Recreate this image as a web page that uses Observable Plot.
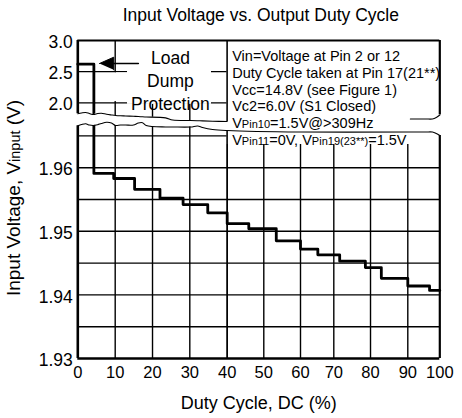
<!DOCTYPE html>
<html><head><meta charset="utf-8">
<script src="https://cdn.jsdelivr.net/npm/d3@7"></script>
<script src="https://cdn.jsdelivr.net/npm/@observablehq/plot@0.6"></script>
<style>
body{margin:0;background:#fff;}
#chart{width:462px;height:418px;}
</style>
</head><body><div id="chart"></div>
<script>
// ---- text ----
const title = "Input Voltage vs. Output Duty Cycle";
const xLabel = "Duty Cycle, DC (%)";
const yLabel = "Input Voltage, V_{input} (V)";
const noteLines = [
  "Vin=Voltage at Pin 2 or 12",
  "Duty Cycle taken at Pin 17(21**)",
  "Vcc=14.8V (see Figure 1)",
  "Vc2=6.0V (S1 Closed)",
  "V_{Pin10}=1.5V@>309Hz",
  "V_{Pin11}=0V, V_{Pin19(23**)}=1.5V"
];
const loadLabel = ["Load", "Dump", "Protection"];

// ---- ticks / grid ----
const xTicks = [0, 10, 20, 30, 40, 50, 60, 70, 80, 90, 100];
const yTicksLower = [1.93, 1.94, 1.95, 1.96];
const yTicksUpper = [2.0, 2.5, 3.0];
const yGridLower = [1.935, 1.94, 1.945, 1.95, 1.955, 1.96, 1.965];
const yGridUpper = [2.0, 2.5];

// ---- series (step curve) ----
const dutyCycle    = [0, 4.3, 9.6, 15.2, 22.0, 28.2, 34.8, 40.0, 45.9, 53.4, 60.0, 65.2, 71.6, 78.6, 82.9, 90.0, 96.8, 100];
const inputVoltage = [2.62, 1.9591, 1.9583, 1.9566, 1.9552, 1.9542, 1.9529, 1.9512, 1.9504, 1.9485, 1.9472, 1.9463, 1.9453, 1.9443, 1.9426, 1.9414, 1.9407, 1.9407];

// ---- axis break outline ----
const breakX      = [0, 1.0, 2.1, 3.1, 4.2, 5.3, 6.3, 7.7, 9.0, 10.1, 11.4, 12.8, 14.9, 16.2, 17.3, 18.3, 23.5, 25.4, 30.2, 32.1, 33.4, 36.1, 40, 60, 90.8, 95.5, 97.7, 98.9, 100];
const breakTop    = [1.96848, 1.9686, 1.96868, 1.96852, 1.96836, 1.96852, 1.96857, 1.9684, 1.96829, 1.96821, 1.96816, 1.96813, 1.96808, 1.96805, 1.968, 1.96797, 1.96783, 1.9675, 1.96742, 1.96739, 1.96736, 1.96731, 1.96726, 1.96726, 1.96766, 1.96766, 1.96766, 1.96789, 1.96829];
const breakBottom = [1.96659, 1.96679, 1.96692, 1.96671, 1.96664, 1.96676, 1.96695, 1.96714, 1.96703, 1.96664, 1.96671, 1.96671, 1.96671, 1.96703, 1.96708, 1.96664, 1.9664, 1.9664, 1.9664, 1.96656, 1.96632, 1.96601, 1.96585, 1.96561, 1.96561, 1.96561, 1.96561, 1.96538, 1.96506];

// ---- annotations ----
const noteBox = {x1: 40, x2: 100, y1: 1.96365, y2: 3.0};
const loadBox = {x1: 13.3, x2: 35.8, y1: 1.975, y2: 3.0};
const loadBoxLeft = {x1: 9.8, x2: 13.3, y1: 2.02, y2: 2.48};
const loadLabelPos = {x: 24.8, y: 2.375};
const arrowShaftX = [9.6, 16.2];
const arrowY = 2.631;
const arrowHeadX = [5.8, 9.6, 9.6];
const arrowHeadY = [2.631, 2.732, 2.530];

// the scanned grid spacing is slightly uneven: where each 10% gridline sits (in % of width)
const xGridSpot = [0, 10.33, 20.64, 30.94, 41.27, 51.38, 61.52, 70.72, 80.86, 91.16, 100];
const xPos = d3.scaleLinear(xTicks, xGridSpot);

// broken y axis: lower panel 1.93..~1.97, upper panel 2.0..3.0
const yPos = v => v >= 1.975 ? 4.02 + (v - 2) * 0.98 : (v - 1.93) * 100;

const stepRows = dutyCycle.map((x, i) => ({x, v: inputVoltage[i]}));
const breakRows = breakX.map((x, i) => ({x, top: breakTop[i], bottom: breakBottom[i]}));
const last = breakRows.length - 1;

const font = "'Liberation Sans', Arial, Helvetica, sans-serif";
const grid = {stroke: "#000", strokeWidth: 1.4};

const chart = Plot.plot({
  width: 462, height: 418,
  marginLeft: 77.3, marginRight: 22.7, marginTop: 40, marginBottom: 60,
  style: {fontFamily: font, background: "white", color: "#000"},
  x: {domain: [0, 100], transform: xPos, label: null},
  y: {domain: [0, 5], transform: yPos, label: null},
  marks: [
    Plot.ruleY(yGridLower, grid),
    Plot.ruleY(yGridUpper, grid),
    Plot.ruleX(xTicks.slice(1, -1), grid),
    Plot.rect([noteBox], {x1: "x1", x2: "x2", y1: "y1", y2: "y2", fill: "white"}),
    Plot.rect([loadBox, loadBoxLeft], {x1: "x1", x2: "x2", y1: "y1", y2: "y2", fill: "white"}),
    Plot.ruleX([40], grid),
    Plot.ruleY([1.93], {stroke: "#000", strokeWidth: 2.6}),
    Plot.ruleY([3.0], {stroke: "#000", strokeWidth: 2}),
    Plot.ruleX([0, 0], {y1: [1.93, breakTop[0]], y2: [breakBottom[0], 3.0], stroke: "#000", strokeWidth: 2.6}),
    Plot.ruleX([100, 100], {y1: [1.93, breakTop[last]], y2: [breakBottom[last], 3.0], stroke: "#000", strokeWidth: 2.2}),
    Plot.line(stepRows, {x: "x", y: "v", curve: "step-after", stroke: "#000", strokeWidth: 2.8}),
    Plot.areaY(breakRows, {x: "x", y1: "bottom", y2: "top", fill: "white", curve: "catmull-rom"}),
    Plot.line(breakRows, {x: "x", y: "bottom", curve: "catmull-rom", stroke: "#000", strokeWidth: 1.1}),
    Plot.line(breakRows.filter(d => d.x <= 40), {x: "x", y: "top", curve: "catmull-rom", stroke: "#000", strokeWidth: 1.1}),
    Plot.line(breakRows.filter(d => d.x >= 90), {x: "x", y: "top", curve: "catmull-rom", stroke: "#000", strokeWidth: 1.1}),
    Plot.line(arrowShaftX, {x: d => d, y: () => arrowY, stroke: "#000", strokeWidth: 1.6}),
    Plot.line(arrowHeadX.map((x, i) => ({x, y: arrowHeadY[i]})), {x: "x", y: "y", fill: "#000", stroke: "#000", strokeWidth: 1}),
    Plot.text([loadLabel.join("\n")], {x: loadLabelPos.x, y: loadLabelPos.y, textAnchor: "middle", lineAnchor: "middle", fontSize: 17.5, lineHeight: 1.314}),
    Plot.text([noteLines.join("\n")], {x: 40, frameAnchor: "top", dx: 5, dy: 8.5, textAnchor: "start", lineAnchor: "top", fontSize: 14.5, lineHeight: 1.159}),
    Plot.text([title], {frameAnchor: "top", dx: 2, dy: -25, lineAnchor: "middle", fontSize: 17.5}),
    Plot.text([xLabel], {frameAnchor: "bottom", dy: 45, lineAnchor: "middle", fontSize: 18}),
    Plot.text([yLabel], {frameAnchor: "left", dx: -64, dy: -1.5, rotate: -90, textAnchor: "middle", lineAnchor: "middle", fontSize: 19}),
    Plot.axisX(xTicks, {tickSize: 0, tickPadding: 8, fontSize: 16.5, label: null}),
    Plot.axisY(yTicksLower, {tickSize: 0, tickPadding: 5, fontSize: 17.5, dy: 2, tickFormat: d3.format(".2f"), label: null}),
    Plot.axisY(yTicksUpper, {tickSize: 0, tickPadding: 5, fontSize: 17.5, dy: 2, tickFormat: d3.format(".1f"), label: null})
  ]
});

// small same-baseline subscripts written as _{...}
const NS = "http://www.w3.org/2000/svg";
chart.querySelectorAll("text, tspan").forEach(el => {
  if (el.children.length) return;
  const s = el.textContent;
  if (!s.includes("_{")) return;
  el.textContent = "";
  s.split(/_\{([^}]*)\}/).forEach((p, i) => {
    if (!p) return;
    const t = document.createElementNS(NS, "tspan");
    t.textContent = p;
    if (i % 2 === 1) t.setAttribute("font-size", "0.76em");
    el.appendChild(t);
  });
});

document.getElementById("chart").appendChild(chart);
</script>
</body></html>
